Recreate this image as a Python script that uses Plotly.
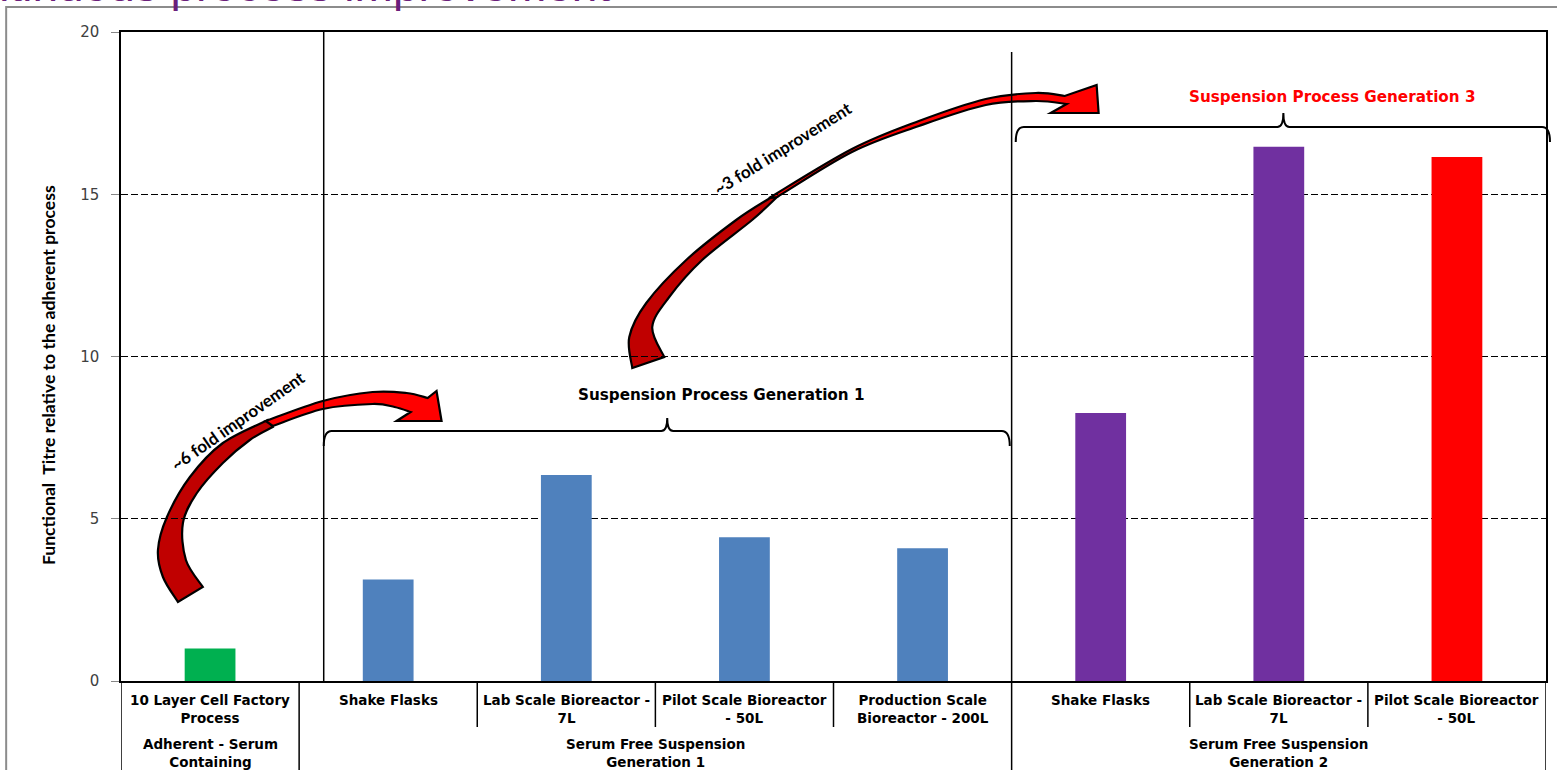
import plotly.graph_objects as go

# ---------------- data ----------------
categories = [
    "10 Layer Cell Factory<br>Process",
    "Shake Flasks",
    "Lab Scale Bioreactor -<br>7L",
    "Pilot Scale Bioreactor<br>- 50L",
    "Production Scale<br>Bioreactor - 200L",
    "Shake Flasks",
    "Lab Scale Bioreactor -<br>7L",
    "Pilot Scale Bioreactor<br>- 50L",
]
values = [1.0, 3.13, 6.35, 4.43, 4.09, 8.26, 16.46, 16.15]
bar_colors = ["#00B050", "#4F81BD", "#4F81BD", "#4F81BD", "#4F81BD",
              "#7030A0", "#7030A0", "#FF0000"]
group_labels = ["Adherent - Serum<br>Containing",
                "Serum Free Suspension<br>Generation 1",
                "Serum Free Suspension<br>Generation 2"]
group_spans = [(0, 0), (1, 4), (5, 7)]
y_ticks = [0, 5, 10, 15, 20]
title_text = "Continuous process improvement"
y_title = "Functional  Titre relative to the adherent process"

# ---------------- geometry helpers ----------------
W, H = 1557, 770
L, R, T, B = 121, 9, 32, 89
PW, PH = W - L - R, H - T - B


def px(x):
    return (x - L) / PW


def py(y):
    return (H - B - y) / PH


def fmt(x, y):
    return f"{px(x):.5f},{py(y):.5f}"


def smooth(pts):
    segs = []
    n = len(pts)
    for i in range(n - 1):
        p0 = pts[i - 1] if i > 0 else pts[i]
        p1 = pts[i]
        p2 = pts[i + 1]
        p3 = pts[i + 2] if i + 2 < n else pts[i + 1]
        c1 = (p1[0] + (p2[0] - p0[0]) / 6, p1[1] + (p2[1] - p0[1]) / 6)
        c2 = (p2[0] - (p3[0] - p1[0]) / 6, p2[1] - (p3[1] - p1[1]) / 6)
        segs.append(f"C {fmt(*c1)} {fmt(*c2)} {fmt(*p2)}")
    return segs


def poly_path(pieces):
    out = []
    cur = None
    for kind, pts in pieces:
        if cur is None:
            out.append(f"M {fmt(*pts[0])}")
        elif cur != pts[0]:
            out.append(f"L {fmt(*pts[0])}")
        if kind == "s":
            out += smooth(pts)
        else:
            out += [f"L {fmt(*p)}" for p in pts[1:]]
        cur = pts[-1]
    out.append("Z")
    return " ".join(out)


def brace_path(x0, x1, xm, yl, ytip, yend):
    return (f"M {fmt(x0, yend)} Q {fmt(x0, yl)} {fmt(x0 + 8, yl)} "
            f"L {fmt(xm - 6, yl)} Q {fmt(xm, yl)} {fmt(xm, ytip)} "
            f"Q {fmt(xm, yl)} {fmt(xm + 6, yl)} L {fmt(x1 - 8, yl)} "
            f"Q {fmt(x1, yl)} {fmt(x1, yend)}")


shapes = []

# outer slide frame
shapes.append(dict(type="rect", xref="paper", yref="paper",
                   x0=px(6), x1=px(1600), y0=py(7), y1=py(900),
                   line=dict(color="#8C8C8C", width=2), layer="below"))

# arrows (dark tail + bright head)
arrow_parts = [
    # arrow 1 tail
    ([("s", [(268, 420), (223, 443), (190, 477), (167, 517), (158, 550), (163, 577), (178, 602)]),
      ("l", [(178, 602), (203, 587)]),
      ("s", [(203, 587), (186, 560), (183, 523), (197, 493), (223, 463), (250, 440), (273, 427)])],
     "#C00000"),
    # arrow 1 head
    ([("s", [(266, 421), (323, 401), (373, 392), (407, 393), (428, 398)]),
      ("l", [(428, 398), (437, 391), (442, 421), (397, 421), (411, 412)]),
      ("s", [(411, 412), (395, 407), (373, 404), (323, 409), (273, 426)])],
     "#FF0000"),
    # arrow 2 tail
    ([("s", [(771, 198), (737, 220), (687, 260), (647, 303), (630, 337), (633, 368)]),
      ("l", [(633, 368), (665, 357)]),
      ("s", [(665, 357), (653, 327), (670, 297), (703, 260), (753, 220), (778, 197)])],
     "#C00000"),
    # arrow 2 head
    ([("s", [(770, 198), (853, 149), (920, 121), (987, 99), (1037, 93), (1066, 96)]),
      ("l", [(1066, 96), (1098, 85), (1100, 113), (1052, 113), (1068, 104)]),
      ("s", [(1068, 104), (1037, 101), (987, 105), (920, 126), (853, 152), (778, 197)])],
     "#FF0000"),
]
for pieces, col in arrow_parts:
    shapes.append(dict(type="path", xref="paper", yref="paper", path=poly_path(pieces),
                       fillcolor=col, line=dict(color="black", width=2.2), layer="below"))

# separators inside plot
shapes.append(dict(type="line", xref="paper", yref="paper", x0=px(324), x1=px(324),
                   y0=0, y1=1, line=dict(color="black", width=1.5)))
shapes.append(dict(type="line", xref="x", yref="paper", x0=4.5, x1=4.5,
                   y0=0, y1=py(52), line=dict(color="black", width=1.5)))

# braces
shapes.append(dict(type="path", xref="paper", yref="paper",
                   path=brace_path(324, 1011, 668, 431, 418, 446),
                   line=dict(color="black", width=2)))
shapes.append(dict(type="path", xref="paper", yref="paper",
                   path=brace_path(1017, 1552, 1285, 127, 113, 142),
                   line=dict(color="black", width=2)))

# category table below the axis
n = len(categories)
group_edges = set()
for a, b in group_spans:
    group_edges.add(a - 0.5)
    group_edges.add(b + 0.5)
for i in range(n + 1):
    xb = i - 0.5
    full = xb in group_edges
    shapes.append(dict(type="line", xref="x", yref="paper", x0=xb, x1=xb,
                       y0=0, y1=py(800) if full else py(727),
                       line=dict(color="black", width=1.5)))

label_font = dict(family="DejaVu Sans", size=13.5, color="black", weight="bold")
annotations = []
for i, c in enumerate(categories):
    annotations.append(dict(x=i, y=py(690), xref="x", yref="paper", text=c,
                            showarrow=False, yanchor="top", xanchor="center",
                            font=label_font))
for (a, b), g in zip(group_spans, group_labels):
    annotations.append(dict(x=(a + b) / 2, y=py(734), xref="x", yref="paper", text=g,
                            showarrow=False, yanchor="top", xanchor="center",
                            font=label_font))

# brace labels
annotations.append(dict(x=px(722), y=py(395), xref="paper", yref="paper",
                        xanchor="center", yanchor="middle",
                        text="Suspension Process Generation 1", showarrow=False,
                        font=dict(family="DejaVu Sans", size=15.2, color="black", weight="bold")))
annotations.append(dict(x=px(1334), y=py(97), xref="paper", yref="paper",
                        xanchor="center", yanchor="middle",
                        text="Suspension Process Generation 3", showarrow=False,
                        font=dict(family="DejaVu Sans", size=15.2, color="#FF0000", weight="bold")))

# arrow labels
annotations.append(dict(x=px(238), y=py(420), xref="paper", yref="paper",
                        xanchor="center", yanchor="middle",
                        text="~6 fold improvement", showarrow=False, textangle=-35,
                        font=dict(family="Lato", size=17, color="black", weight="bold")))
annotations.append(dict(x=px(783), y=py(148), xref="paper", yref="paper",
                        xanchor="center", yanchor="middle",
                        text="~3 fold improvement", showarrow=False, textangle=-32,
                        font=dict(family="Lato", size=17, color="black", weight="bold")))

# y title
annotations.append(dict(x=px(48), y=py(375), xref="paper", yref="paper",
                        xanchor="center", yanchor="middle",
                        text=y_title, showarrow=False, textangle=-90,
                        font=dict(family="Lato", size=17.6, color="black", weight="bold")))

# clipped slide title
annotations.append(dict(x=px(613), y=py(13.5), xref="paper", yref="paper",
                        text=title_text, showarrow=False, xanchor="right", yanchor="bottom",
                        font=dict(family="Liberation Sans", size=46, color="#6B1F7B")))

fig = go.Figure(go.Bar(
    x=list(range(n)), y=values, marker=dict(color=bar_colors, line=dict(width=0)),
    width=0.285, hoverinfo="skip"))

fig.update_layout(
    width=W, height=H,
    margin=dict(l=L, r=R, t=T, b=B, pad=0),
    paper_bgcolor="white", plot_bgcolor="rgba(0,0,0,0)",
    showlegend=False,
    shapes=shapes, annotations=annotations,
    xaxis=dict(range=[-0.5, n - 0.5], showticklabels=False, ticks="",
               showgrid=False, zeroline=False, showline=True, linecolor="black",
               linewidth=1.5, mirror=True, fixedrange=True),
    yaxis=dict(range=[0, 20], tickvals=y_ticks, ticks="outside", ticklen=8,
               tickcolor="#868686", tickwidth=1, ticklabelstandoff=9,
               tickfont=dict(family="DejaVu Sans", size=15, color="#404040"),
               showgrid=True, gridcolor="black", gridwidth=1, griddash="7px,3px",
               zeroline=False, showline=True, linecolor="black", linewidth=1.5,
               mirror=True, fixedrange=True),
)

fig.write_html("out.html")
